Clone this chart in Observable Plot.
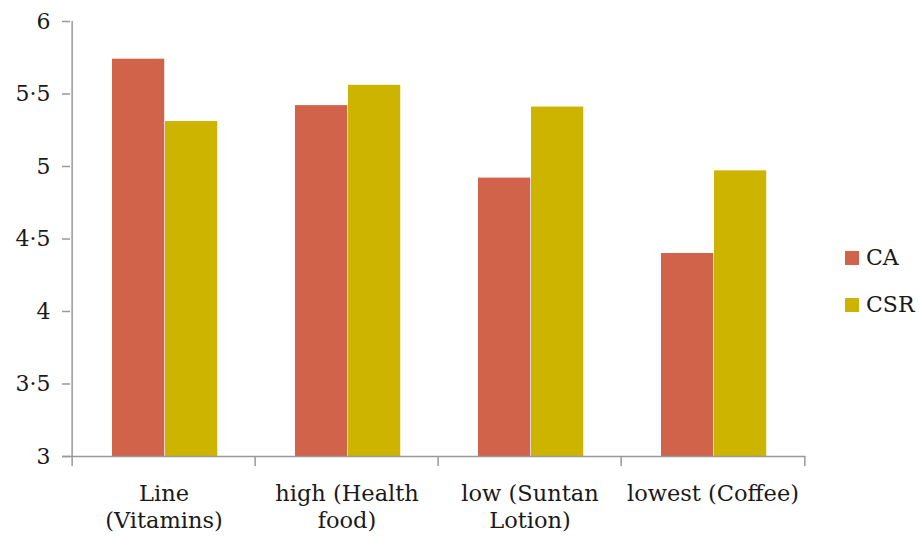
<!DOCTYPE html>
<html>
<head>
<meta charset="utf-8">
<script src="https://cdn.jsdelivr.net/npm/d3@7"></script>
<script src="https://cdn.jsdelivr.net/npm/@observablehq/plot@0.6"></script>
<style>
  html, body { margin: 0; padding: 0; background: #fff; }
  #wrap { position: relative; width: 919px; height: 542px; font-family: "DejaVu Serif", serif; }
  #legend { position: absolute; left: 845px; top: 234px; font-size: 22px; color: #1a1a1a; }
  .item { display: flex; align-items: center; height: 47px; }
  .sw { width: 14px; height: 14px; margin-right: 7px; }
</style>
</head>
<body>
<div id="wrap"><div id="chart"></div><div id="legend"></div></div>
<script>
const categories = ["Line (Vitamins)", "high (Health food)", "low (Suntan Lotion)", "lowest (Coffee)"];
const tickLabels = ["Line\n(Vitamins)", "high (Health\nfood)", "low (Suntan\nLotion)", "lowest (Coffee)"];
const series = ["CA", "CSR"];
const caValues = [5.74, 5.42, 4.92, 4.40];
const csrValues = [5.31, 5.56, 5.41, 4.97];
const yTicks = [3, 3.5, 4, 4.5, 5, 5.5, 6];
const colors = ["#D0634A", "#CCB400"];

const width = 830, marginLeft = 70, marginRight = 25;
const bw = (width - marginLeft - marginRight) / categories.length;

const ca = categories.map((c, i) => ({category: c, series: "CA", value: caValues[i]}));
const csr = categories.map((c, i) => ({category: c, series: "CSR", value: csrValues[i]}));

const chart = Plot.plot({
  width, height: 542,
  marginLeft, marginRight, marginTop: 21, marginBottom: 86,
  style: {fontFamily: "DejaVu Serif, serif", fontSize: "22px", color: "#1a1a1a", background: "#fff"},
  x: {domain: categories, padding: 0, label: null},
  y: {domain: [3, 6], label: null},
  color: {domain: series, range: colors},
  marks: [
    Plot.barY(ca, {x: "category", y1: 3, y2: "value", fill: "series", insetLeft: 40, insetRight: bw - 40 - 53}),
    Plot.barY(csr, {x: "category", y1: 3, y2: "value", fill: "series", insetLeft: 93, insetRight: bw - 93 - 53}),
    Plot.ruleY([3], {stroke: "#999", strokeWidth: 1.5, insetLeft: -8}),
    Plot.ruleX([categories[0]], {x: d => d, y1: 3, y2: 6, dx: -bw / 2, stroke: "#999", strokeWidth: 1.5}),
    Plot.ruleX(categories, {x: d => d, y1: 3, y2: 3, dx: -bw / 2, insetBottom: -10, stroke: "#999", strokeWidth: 1.5}),
    Plot.ruleX([categories[categories.length - 1]], {x: d => d, y1: 3, y2: 3, dx: bw / 2, insetBottom: -10, stroke: "#999", strokeWidth: 1.5}),
    Plot.axisY({ticks: yTicks, tickSize: 8, tickPadding: 12, stroke: "#999", strokeWidth: 1.5, tickFormat: d => String(d).replace(".", "·"), fontSize: 22, label: null}),
    Plot.axisX({tickSize: 0, tickPadding: 25, tickFormat: d => tickLabels[categories.indexOf(d)], fontSize: 22.5, lineHeight: 1.2, label: null})
  ]
});
document.getElementById("chart").appendChild(chart);

const legend = document.getElementById("legend");
series.forEach((s, i) => {
  const item = document.createElement("div");
  item.className = "item";
  item.innerHTML = `<div class="sw" style="background:${colors[i]}"></div><span>${s}</span>`;
  legend.appendChild(item);
});
</script>
</body>
</html>
